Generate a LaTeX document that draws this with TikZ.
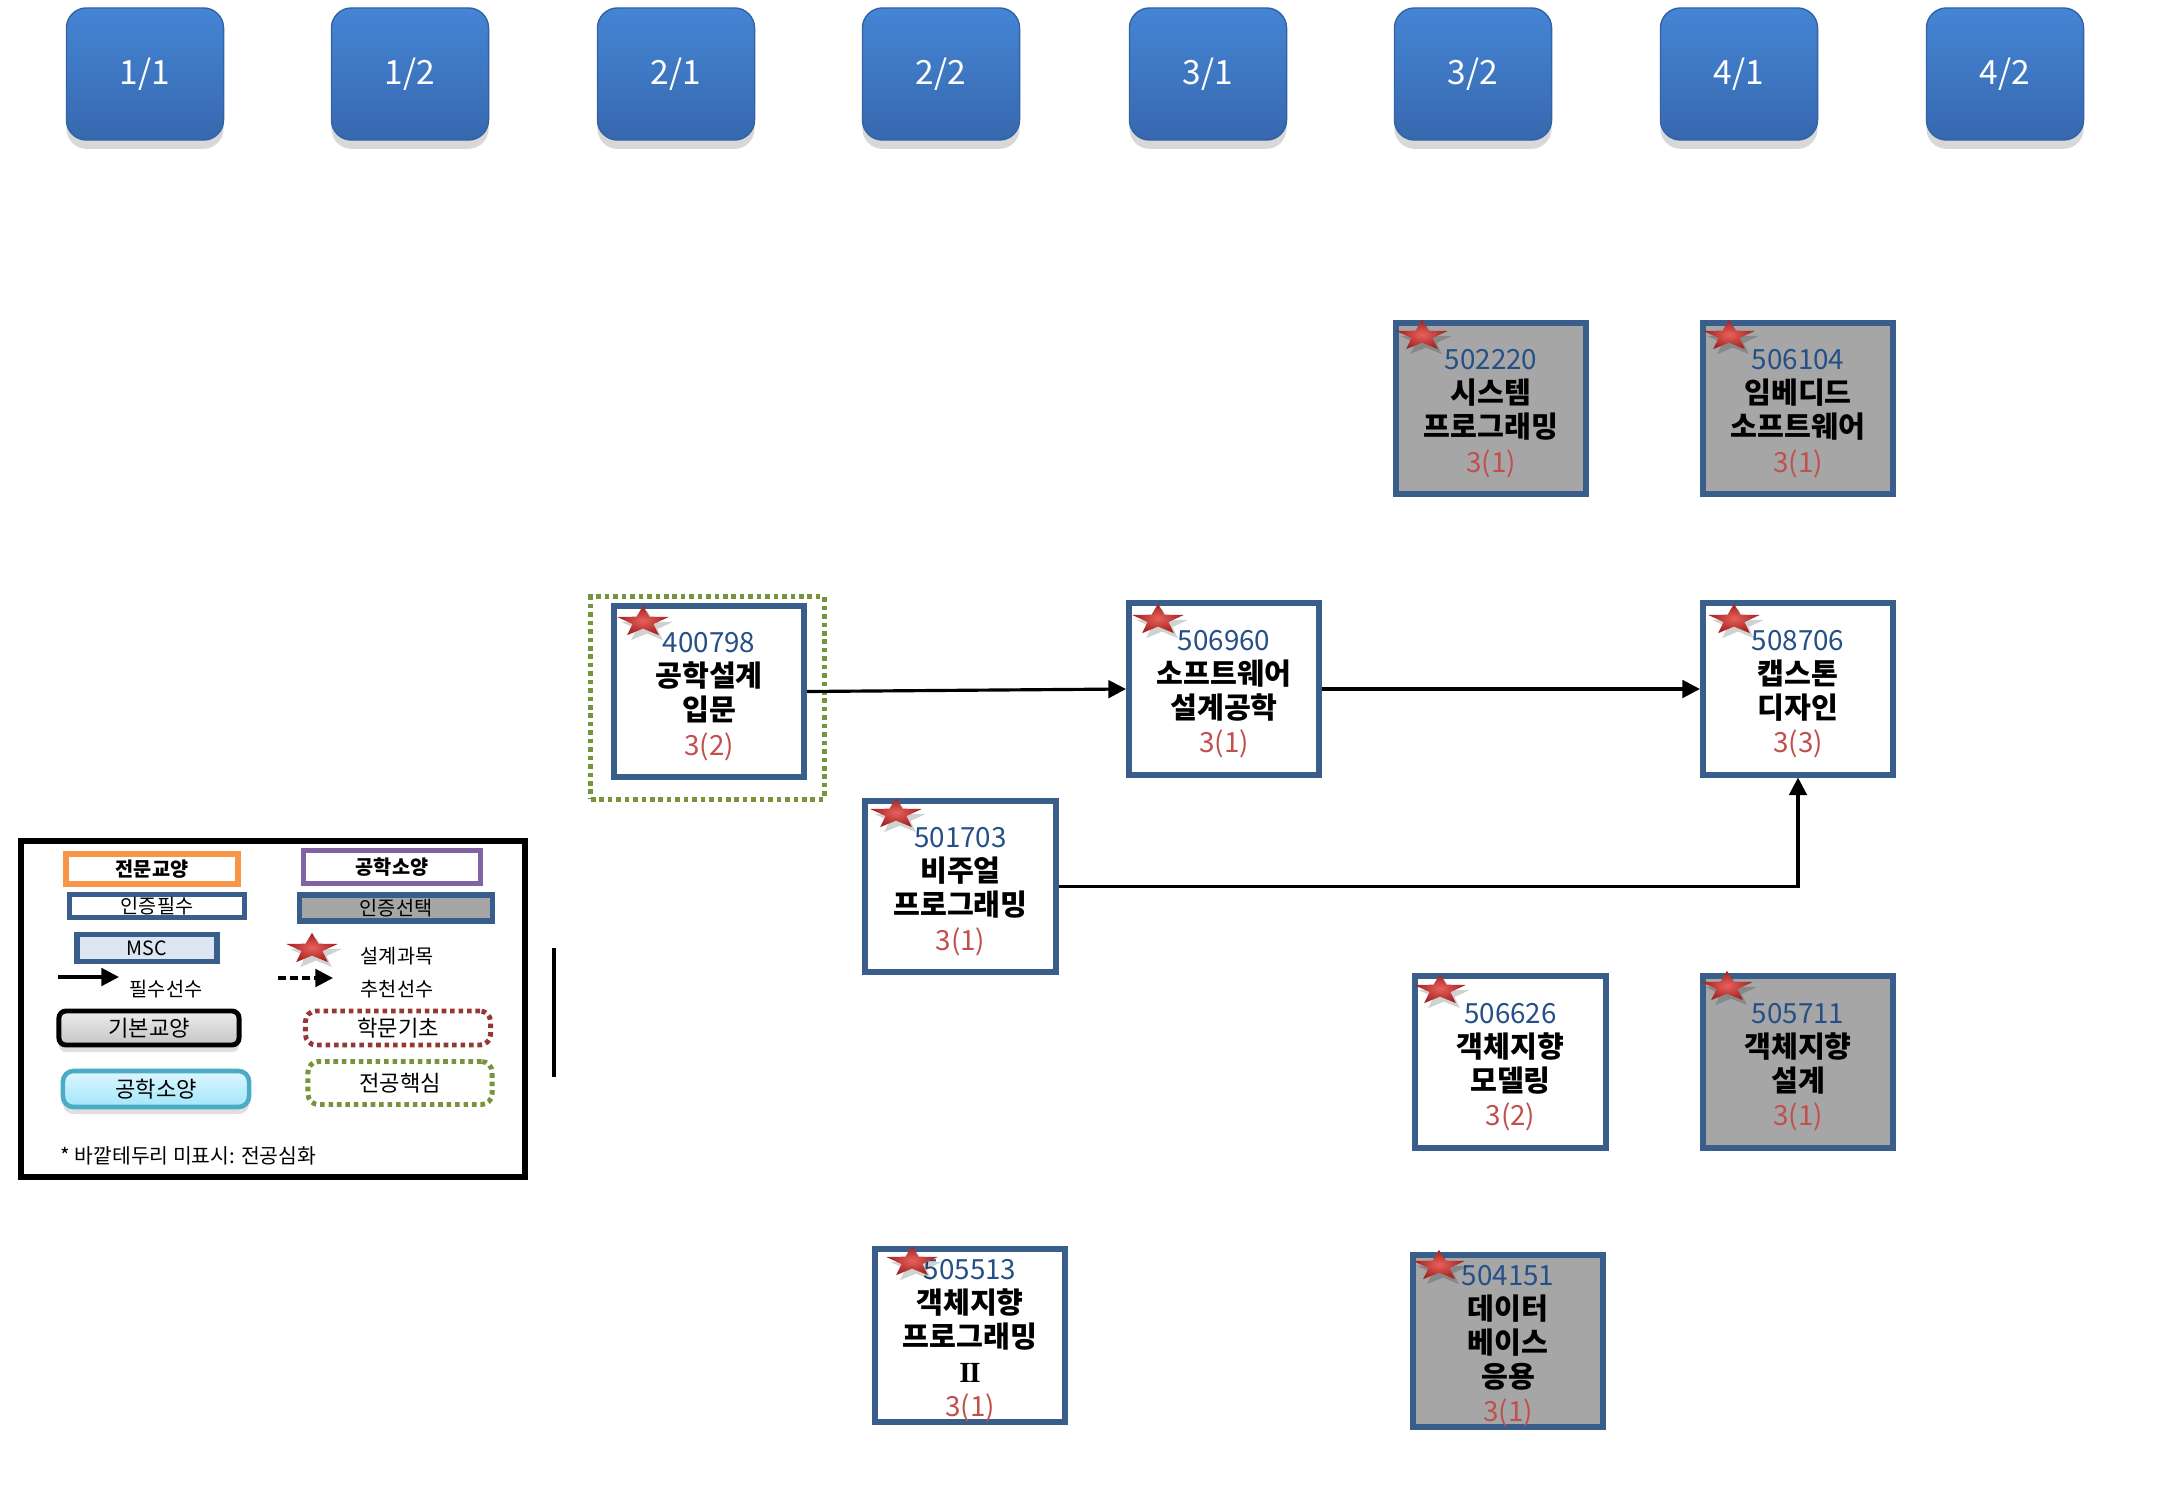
\documentclass[tikz,border=0pt]{standalone}
\usepackage{fontspec}
\setmainfont{Noto Sans CJK KR}
\newfontfamily\romanf{Liberation Serif}
\usetikzlibrary{arrows.meta,shadows,calc}
\definecolor{bordblue}{HTML}{3A5E8C}
\definecolor{numblue}{HTML}{254F87}
\definecolor{credred}{HTML}{C0504D}
\definecolor{grayfill}{HTML}{A6A6A6}
\definecolor{coregreen}{HTML}{77933C}
\definecolor{basered}{HTML}{953735}
\definecolor{orangeb}{HTML}{F79646}
\definecolor{purpleb}{HTML}{8064A2}
\definecolor{mscfill}{HTML}{DCE6F2}
\definecolor{cyanb}{HTML}{4BACC6}
\definecolor{cyantop}{HTML}{DDF7FF}
\definecolor{cyanbot}{HTML}{A3E6FA}
\definecolor{semtop}{HTML}{4585D5}
\definecolor{sembot}{HTML}{3768AE}
\definecolor{semedge}{HTML}{3463A5}
\definecolor{starlight}{HTML}{E8625C}
\definecolor{stardark}{HTML}{A3201E}
\definecolor{graytop}{HTML}{EDEDED}
\definecolor{graybot}{HTML}{C4C4C4}
\newcommand\cnum[1]{{\rule{0pt}{8.6pt}\fontsize{7.9}{9.7}\selectfont\color{numblue}#1}}
\newcommand\cname[1]{{\bfseries #1}}
\newcommand\ccred[1]{{\fontsize{7.9}{9.7}\selectfont\color{credred}#1}}
\newcommand\rstar[1]{%
  \begin{scope}[shift={#1}]
    \begin{scope}[shift={(4,5)},yscale=-0.6]
      \fill[black,opacity=0.18] (90:27) -- (126:11) -- (162:27) -- (198:11) -- (234:27) -- (270:11) -- (306:27) -- (342:11) -- (18:27) -- (54:11) -- cycle;
    \end{scope}
    \begin{scope}[yscale=-0.6]
      \shade[inner color=starlight,outer color=stardark] (90:27) -- (126:11) -- (162:27) -- (198:11) -- (234:27) -- (270:11) -- (306:27) -- (342:11) -- (18:27) -- (54:11) -- cycle;
    \end{scope}
  \end{scope}}
\tikzset{
  sem/.style={rounded corners=0.2cm, minimum width=1.57cm, minimum height=1.32cm,
    top color=semtop, bottom color=sembot, draw=semedge, line width=0.4pt,
    text=white, font=\fontsize{9.5}{11}\selectfont,
    drop shadow={opacity=0.3,shadow xshift=0pt,shadow yshift=-2.5pt}},
  course/.style={draw=bordblue, line width=1.7pt, minimum width=1.90cm, minimum height=1.71cm,
    align=center, inner sep=0pt, fill=white, font=\fontsize{8.3}{9.7}\selectfont},
  gcourse/.style={course, fill=grayfill},
  arr/.style={-{Triangle[length=5pt,width=5pt]}, line width=0.9pt},
  coredot/.style={draw=coregreen, line width=1.4pt, dash pattern=on 1.3pt off 1.1pt},
  basedot/.style={draw=basered, line width=1.4pt, dash pattern=on 1.3pt off 1.1pt},
  leg/.style={inner sep=0pt, font=\fontsize{5.6}{6.6}\selectfont},
}
\begin{document}
\begin{tikzpicture}[x=0.01cm,y=-0.01cm]
\useasboundingbox (0,0) rectangle (2167,1500);
\fill[white] (0,0) rectangle (2167,1500);

% semesters
\node[sem] (s11) at (145,74) {1/1};
\node[sem] (s12) at (410,74) {1/2};
\node[sem] (s21) at (676,74) {2/1};
\node[sem] (s22) at (941,74) {2/2};
\node[sem] (s31) at (1208,74) {3/1};
\node[sem] (s32) at (1473,74) {3/2};
\node[sem] (s41) at (1739,74) {4/1};
\node[sem] (s42) at (2005,74) {4/2};

% core outline
\node[coredot, minimum width=2.33cm, minimum height=2.02cm] (core1) at (707.5,698) {};

% courses
\node[course] (c400798) at (709,691.5) {\cnum{400798}\\\cname{공학설계}\\\cname{입문}\\\ccred{3(2)}};
\node[course] (c506960) at (1224,689) {\cnum{506960}\\\cname{소프트웨어}\\\cname{설계공학}\\\ccred{3(1)}};
\node[course] (c508706) at (1798,689) {\cnum{508706}\\\cname{캡스톤}\\\cname{디자인}\\\ccred{3(3)}};
\node[gcourse] (c502220) at (1491,408.5) {\cnum{502220}\\\cname{시스템}\\\cname{프로그래밍}\\\ccred{3(1)}};
\node[gcourse] (c506104) at (1798,408.5) {\cnum{506104}\\\cname{임베디드}\\\cname{소프트웨어}\\\ccred{3(1)}};
\node[course] (c501703) at (960.5,886.5) {\cnum{501703}\\\cname{비주얼}\\\cname{프로그래밍}\\\ccred{3(1)}};
\node[course] (c506626) at (1510.5,1062) {\cnum{506626}\\\cname{객체지향}\\\cname{모델링}\\\ccred{3(2)}};
\node[gcourse] (c505711) at (1798,1062) {\cnum{505711}\\\cname{객체지향}\\\cname{설계}\\\ccred{3(1)}};
\node[course] (c505513) at (970,1335.5) {\cnum{505513}\\\cname{객체지향}\\\cname{프로그래밍}\\{\romanf\bfseries I\kern-0.05em I}\\\ccred{3(1)}};
\node[gcourse] (c504151) at (1508,1341) {\cnum{504151}\\\cname{데이터}\\\cname{베이스}\\\cname{응용}\\\ccred{3(1)}};

% arrows
\draw[arr] (c400798.east) -- (c506960.west);
\draw[arr] (c506960.east) -- (c508706.west);
\draw[arr] (c501703.east) -| (c508706.south);

% stars
\rstar{(643,622)}
\rstar{(1158,620)}
\rstar{(1734,620)}
\rstar{(1422,336)}
\rstar{(1729,336)}
\rstar{(896,814)}
\rstar{(1440,990)}
\rstar{(1727,987)}
\rstar{(912,1262)}
\rstar{(1439,1266)}

% legend
\node[draw=black, line width=1.6pt, minimum width=5.04cm, minimum height=3.36cm] (legbox) at (273,1009) {};
\node[leg, draw=orangeb, line width=1.5pt, minimum width=1.72cm, minimum height=0.30cm, font=\fontsize{5.6}{6.6}\selectfont\bfseries] (l1) at (152,869) {전문교양};
\node[leg, draw=purpleb, line width=1.5pt, minimum width=1.77cm, minimum height=0.33cm, font=\fontsize{5.6}{6.6}\selectfont\bfseries] (l2) at (392,867) {공학소양};
\node[leg, draw=bordblue, line width=1.5pt, minimum width=1.75cm, minimum height=0.23cm] (l3) at (157,906) {인증필수};
\node[leg, draw=bordblue, fill=grayfill, line width=1.5pt, minimum width=1.93cm, minimum height=0.26cm] (l4) at (396,908) {인증선택};
\node[leg, draw=bordblue, fill=mscfill, line width=1.5pt, minimum width=1.40cm, minimum height=0.27cm] (l5) at (147,948) {MSC};
\rstar{(312,949)}
\node[leg] (l6) at (397,956) {설계과목};
\coordinate (a1s) at (58,977);
\coordinate (a1e) at (119,977);
\draw[arr] (a1s) -- (a1e);
\node[leg] (l7) at (166,989) {필수선수};
\coordinate (a2s) at (278,978);
\coordinate (a2e) at (333,978);
\draw[arr, dash pattern=on 2.2pt off 1.2pt] (a2s) -- (a2e);
\node[leg] (l8) at (397,989) {추천선수};
\node[leg, draw=black, line width=1.4pt, rounded corners=2pt, top color=graytop, bottom color=graybot,
  minimum width=1.80cm, minimum height=0.34cm, font=\fontsize{6.3}{7.3}\selectfont,
  drop shadow={opacity=0.25,shadow xshift=0pt,shadow yshift=-2pt}] (l9) at (149,1028) {기본교양};
\node[leg, basedot, rounded corners=3pt, minimum width=1.85cm, minimum height=0.34cm, font=\fontsize{6.3}{7.3}\selectfont] (l10) at (398,1028) {학문기초};
\node[leg, draw=cyanb, line width=1.3pt, rounded corners=3pt, top color=cyantop, bottom color=cyanbot,
  minimum width=1.86cm, minimum height=0.36cm, font=\fontsize{6.3}{7.3}\selectfont,
  drop shadow={opacity=0.25,shadow xshift=0pt,shadow yshift=-2pt}] (l11) at (156,1089) {공학소양};
\node[leg, coredot, rounded corners=3pt, minimum width=1.84cm, minimum height=0.43cm, font=\fontsize{6.3}{7.3}\selectfont] (l12) at (400,1083) {전공핵심};
\node[leg, anchor=west, font=\fontsize{5.8}{6.8}\selectfont] (l13) at (60,1156) {* 바깥테두리 미표시: 전공심화};
\coordinate (vl1) at (554,948);
\coordinate (vl2) at (554,1077);
\draw[line width=0.9pt] (vl1) -- (vl2);
\end{tikzpicture}
\end{document}
